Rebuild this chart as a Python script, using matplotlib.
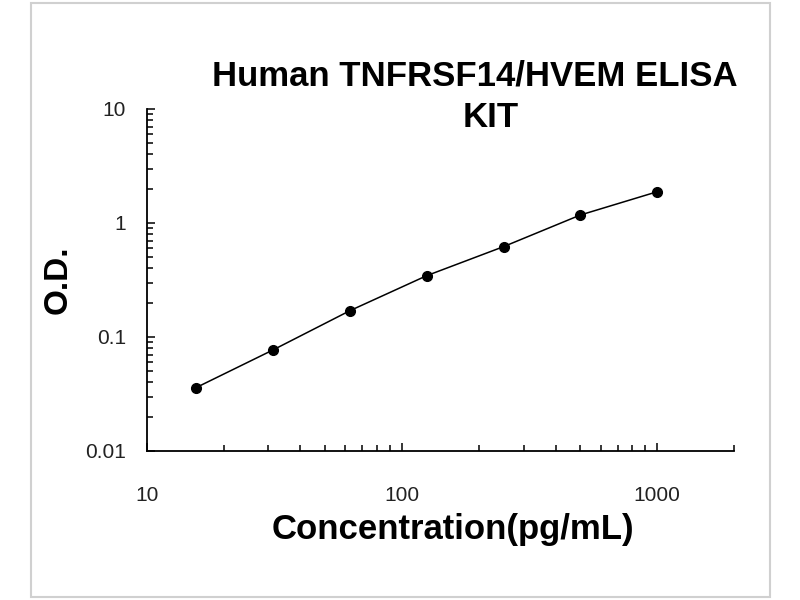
import matplotlib
matplotlib.use("Agg")
import matplotlib.pyplot as plt
from matplotlib.patches import Rectangle
from matplotlib.ticker import LogLocator, NullFormatter, FixedLocator, FixedFormatter

# standard curve
conc = [15.625, 31.25, 62.5, 125, 250, 500, 1000]
od = [0.036, 0.077, 0.170, 0.345, 0.62, 1.175, 1.88]

x_ticks = [10, 100, 1000]
x_labels = ["10", "100", "1000"]
y_ticks = [0.01, 0.1, 1, 10]
y_labels = ["0.01", "0.1", "1", "10"]

title_line1 = "Human TNFRSF14/HVEM ELISA"
title_line2 = "KIT"
x_title = "Concentration(pg/mL)"
y_title = "O.D."

plt.rcParams['font.family'] = ['Liberation Sans', 'DejaVu Sans']

fig = plt.figure(figsize=(8, 6), dpi=100)
fig.patch.set_facecolor("white")

# light grey frame around the whole picture
fig.patches.append(Rectangle((31 / 800, 3 / 600), 739 / 800, 594 / 600,
                             transform=fig.transFigure, fill=False,
                             edgecolor="#d0d0d0", linewidth=1.5))

ax = fig.add_axes([146.7 / 800, 1 - 451 / 600, (734 - 146.7) / 800, (451 - 109) / 600])

ax.plot(conc, od, color="black", linewidth=1.1, zorder=2)
ax.plot(conc, od, "o", color="black", markersize=7, zorder=3)

ax.set_xscale("log")
ax.set_yscale("log")
ax.set_xlim(10, 2000)
ax.set_ylim(0.01, 10)

ax.spines["top"].set_visible(False)
ax.spines["right"].set_visible(False)
for s in ("left", "bottom"):
    ax.spines[s].set_linewidth(1.3)
    ax.spines[s].set_color("black")

ax.xaxis.set_major_locator(FixedLocator(x_ticks))
ax.xaxis.set_major_formatter(FixedFormatter(x_labels))
ax.yaxis.set_major_locator(FixedLocator(y_ticks))
ax.yaxis.set_major_formatter(FixedFormatter(y_labels))
ax.xaxis.set_minor_locator(LogLocator(base=10, subs=range(2, 10)))
ax.yaxis.set_minor_locator(LogLocator(base=10, subs=range(2, 10)))
ax.xaxis.set_minor_formatter(NullFormatter())
ax.yaxis.set_minor_formatter(NullFormatter())

ax.tick_params(which="major", direction="in", length=5.5, width=1.1, labelsize=15,
               labelcolor="#222222")
ax.tick_params(which="minor", direction="in", length=4.5, width=1.1)
ax.tick_params(axis="y", which="major", pad=15)
ax.tick_params(axis="x", which="major", pad=25)

fig.text(475 / 800, 1 - 76 / 600, title_line1, ha="center", va="center",
         fontsize=25, fontweight="bold")
fig.text(491 / 800, 1 - 117 / 600, title_line2, ha="center", va="center",
         fontsize=25, fontweight="bold")
fig.text(453 / 800, 1 - 530 / 600, x_title, ha="center", va="center",
         fontsize=25, fontweight="bold")
fig.text(58 / 800, 1 - 280 / 600, y_title, ha="center", va="center",
         fontsize=24, fontweight="bold", rotation=90)

fig.savefig("out.png", dpi=100, facecolor="white")
